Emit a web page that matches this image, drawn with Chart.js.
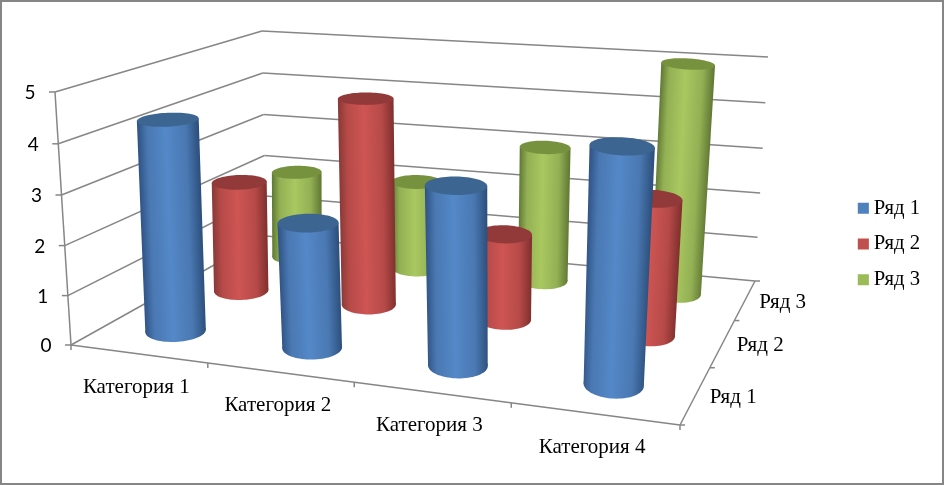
<!DOCTYPE html>
<html>
<head>
<meta charset="utf-8">
<style>html,body{margin:0;padding:0;background:#fff}canvas{display:block}</style>
<script src="https://cdn.jsdelivr.net/npm/chart.js@4"></script>
</head>
<body>
<canvas id="chart" width="944" height="485"></canvas>
<script>
// data
const categories = ['Категория 1', 'Категория 2', 'Категория 3', 'Категория 4'];
const seriesNames = ['Ряд 1', 'Ряд 2', 'Ряд 3'];
const row1 = [4.3, 2.5, 3.5, 4.5];
const row2 = [2.4, 4.4, 1.8, 2.8];
const row3 = [2, 2, 3, 5];
const valueTicks = [0, 1, 2, 3, 4, 5];

// look of the three series: flat colour, cap, shading stops
const flatColors = ['#4F81BD', '#C0504D', '#9BBB59'];
const capColors = ['#3D6591', '#923A39', '#77923F'];
const edgeDark = ['#2B4E7A', '#7E2F2D', '#5F7633'];
const edgeLeft = ['#2F5283', '#873937', '#5F7833'];
const midColors = ['#5488C8', '#CE5553', '#A9C860'];
const sideColors = ['#4A78B2', '#B64A48', '#93B054'];

// corners of the box on screen: floor and level of the top value
// order: front left, front right, back right, back left
const floorQuad = [[71, 345], [680, 425], [755, 281], [266, 236]];
const topQuad = [[55, 92], [693, 145], [768, 57], [262, 31]];
const radiusU = 0.044, radiusV = 0.088, flatten = 0.9;
const tiltCenter = 390, tiltRate = 0.0002;
const bowU = 0.033, bowW = 1.03;
const gridColor = '#868686';

function quadMap(q) {
  const [[x0, y0], [x1, y1], [x2, y2], [x3, y3]] = q;
  const dx1 = x1 - x2, dx2 = x3 - x2, sx = x0 - x1 + x2 - x3;
  const dy1 = y1 - y2, dy2 = y3 - y2, sy = y0 - y1 + y2 - y3;
  const den = dx1 * dy2 - dx2 * dy1;
  const g = (sx * dy2 - dx2 * sy) / den, h = (dx1 * sy - sx * dy1) / den;
  const a = x1 - x0 + g * x1, b = x3 - x0 + h * x3;
  const d = y1 - y0 + g * y1, e = y3 - y0 + h * y3;
  return (u, v) => {
    const k = g * u + h * v + 1;
    return [(a * u + b * v + x0) / k, (d * u + e * v + y0) / k];
  };
}
const floorMap = quadMap(floorQuad);
const topMap = quadMap(topQuad);

// u along categories, v into depth, w up the value axis (all 0..1)
function project(u, v, w) {
  const uu = u + bowU * u * (1 - u);
  const ww = w / (w + (1 - w) * bowW);
  const p0 = floorMap(uu, v), p1 = topMap(uu, v);
  return [p0[0] + (p1[0] - p0[0]) * ww, p0[1] + (p1[1] - p0[1]) * ww];
}

function line(ctx, a, b) {
  ctx.beginPath();
  ctx.moveTo(a[0], a[1]);
  ctx.lineTo(b[0], b[1]);
  ctx.stroke();
}

function fillPoly(ctx, pts, style) {
  ctx.beginPath();
  pts.forEach((p, i) => i ? ctx.lineTo(p[0], p[1]) : ctx.moveTo(p[0], p[1]));
  ctx.closePath();
  ctx.fillStyle = style;
  ctx.fill();
}

// ellipse of a cylinder end: size from the projected circle, tilt by position
function ring(u, v, w) {
  const c = project(u, v, w);
  let rx = 0, ry = 0;
  for (let i = 0; i < 36; i++) {
    const t = i / 36 * Math.PI * 2;
    const p = project(u + radiusU * Math.cos(t), v + radiusV * Math.sin(t), w);
    rx = Math.max(rx, Math.abs(p[0] - c[0]));
    ry = Math.max(ry, Math.abs(p[1] - c[1]));
  }
  ry *= flatten;
  const cx = c[0] + 5 * w, tilt = (cx - tiltCenter) * tiltRate;
  const pts = [];
  for (let i = 0; i < 72; i++) {
    const t = i / 72 * Math.PI * 2;
    const dx = rx * Math.cos(t);
    pts.push([cx + dx, c[1] + ry * Math.sin(t) + tilt * dx]);
  }
  pts.center = [cx, c[1]];
  pts.rx = rx;
  return pts;
}

function drawCylinder(ctx, u, v, w, s) {
  const base = ring(u, v, 0), top = ring(u, v, w);
  const bl = base[36], br = base[0], tl = top[36], tr = top[0];
  const c0 = base.center, c1 = top.center;
  // shading runs across the axis of the cylinder
  const ax = c0[0] - c1[0], ay = c0[1] - c1[1], len = Math.hypot(ax, ay);
  const nx = ay / len, ny = -ax / len;
  const half = top.rx;
  const grad = ctx.createLinearGradient(c1[0] - nx * half, c1[1] - ny * half, c1[0] + nx * half, c1[1] + ny * half);
  grad.addColorStop(0, edgeLeft[s]);
  grad.addColorStop(0.16, sideColors[s]);
  grad.addColorStop(0.46, midColors[s]);
  grad.addColorStop(0.78, sideColors[s]);
  grad.addColorStop(1, edgeDark[s]);
  fillPoly(ctx, base, grad);
  fillPoly(ctx, [tl, bl, br, tr], grad);
  fillPoly(ctx, top, capColors[s]);
}

const box3d = {
  id: 'box3d',
  beforeDraw(chart) {
    const ctx = chart.ctx;
    ctx.save();
    ctx.strokeStyle = gridColor;
    ctx.lineWidth = 2;
    ctx.strokeRect(1, 1, chart.width - 2, chart.height - 2);
    ctx.restore();
  },
  beforeDatasetsDraw(chart) {
    const ctx = chart.ctx, ys = chart.scales.y;
    ctx.save();
    ctx.strokeStyle = gridColor;
    ctx.lineWidth = 1.5;
    // walls
    valueTicks.forEach(t => {
      const w = (ys.bottom - ys.getPixelForValue(t)) / ys.height;
      line(ctx, project(0, 0, w), project(0, 1, w));
      line(ctx, project(0, 1, w), project(1, 1, w));
      const p = project(0, 0, w);
      line(ctx, [p[0] - 6, p[1]], p);
    });
    line(ctx, project(0, 0, 0), project(0, 0, 1));
    // floor edges and their ticks
    line(ctx, project(0, 0, 0), project(1, 0, 0));
    line(ctx, project(1, 0, 0), project(1, 1, 0));
    for (let i = 0; i <= categories.length; i++) {
      const p = project(i / categories.length, 0, 0);
      line(ctx, p, [p[0], p[1] + 5]);
    }
    for (let j = 0; j <= seriesNames.length; j++) {
      const p = project(1, j / seriesNames.length, 0);
      line(ctx, p, [p[0] + 5, p[1]]);
    }
    // axis texts
    ctx.fillStyle = '#000';
    ctx.textAlign = 'center';
    ctx.textBaseline = 'middle';
    ctx.font = '19px Lato';
    valueTicks.forEach(t => {
      const w = (ys.bottom - ys.getPixelForValue(t)) / ys.height;
      const p = project(0, 0, w);
      ctx.fillText(String(t), p[0] - 25, p[1] + 1);
    });
    ctx.font = '21px "Liberation Serif"';
    categories.forEach((c, i) => {
      const p = project((i + 0.5) / categories.length, 0, 0);
      ctx.fillText(c, p[0] - 2, p[1] + 33.5);
    });
    seriesNames.forEach((n, j) => {
      const p = project(1, (j + 0.5) / seriesNames.length, 0);
      ctx.fillText(n, p[0] + 37.5, p[1] + 2.5);
    });
    ctx.restore();
  },
  // datasets come here last to first, so the back row is painted first
  beforeDatasetDraw(chart, args) {
    const { x: xs, y: ys, z: zs } = chart.scales;
    const ds = chart.data.datasets[args.index];
    const v = (zs.getPixelForValue(args.index) - zs.left) / zs.width;
    ds.data.forEach((val, i) => {
      const u = (xs.getPixelForValue(i) - xs.left) / xs.width;
      const w = (ys.bottom - ys.getPixelForValue(val)) / ys.height;
      drawCylinder(chart.ctx, u, v, w, args.index);
    });
    return false;
  }
};

new Chart(document.getElementById('chart'), {
  type: 'bar',
  plugins: [box3d],
  data: {
    labels: categories,
    datasets: [row1, row2, row3].map((data, i) => ({
      label: seriesNames[i],
      data,
      backgroundColor: flatColors[i],
      borderColor: flatColors[i],
      borderWidth: 11
    }))
  },
  options: {
    responsive: false,
    animation: false,
    layout: { padding: { right: 14, top: 3 } },
    scales: {
      x: { type: 'category', display: false, offset: true },
      y: { type: 'linear', min: 0, max: 5, display: false },
      z: { type: 'category', axis: 'x', labels: seriesNames, display: false, offset: true }
    },
    plugins: {
      tooltip: { enabled: false },
      legend: {
        position: 'right',
        labels: {
          boxWidth: 0.1,
          boxHeight: 0.1,
          padding: 15,
          color: '#000',
          font: { family: '"Liberation Serif"', size: 20.7 }
        }
      }
    }
  }
});
</script>
</body>
</html>
